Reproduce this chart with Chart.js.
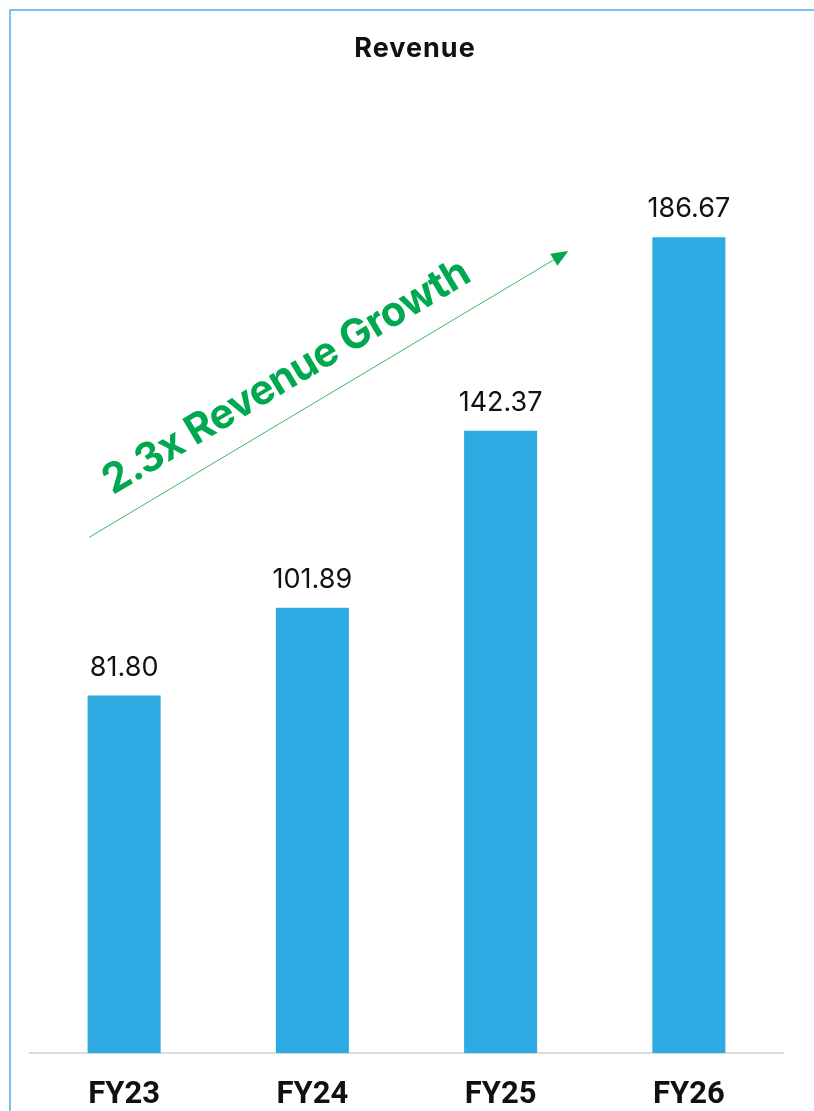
<!DOCTYPE html>
<html>
<head>
<meta charset="utf-8">
<script src="https://cdn.jsdelivr.net/npm/chart.js@4.4.1/dist/chart.umd.min.js"></script>
<style>
    html, body { margin: 0; padding: 0; background: #fff; }
    #wrap { position: relative; width: 814px; height: 1111px; overflow: hidden; }
    #marco { position: absolute; left: 9px; top: 9px; right: -10px; bottom: -10px;
             border-top: 2px solid #74c6ea; border-left: 2px solid #74c6ea; }
    canvas { position: absolute; left: 0; top: 0; }
</style>
</head>
<body>
<div id="wrap">
    <div id="marco"></div>
    <canvas id="revenueChart" width="814" height="1111"></canvas>
</div>
<script>
// Chart data
const categorias = ['FY23', 'FY24', 'FY25', 'FY26'];
const ingresos = [81.80, 101.89, 142.37, 186.67];
const titulo = 'Revenue';
const textoCrecimiento = '2.3x Revenue Growth';
// arrow ends, in axis units (category index, value)
const flechaInicio = [-0.186, 118];
const flechaFin = [2.36, 183.5];

// Title, value labels above each bar
const etiquetasPlugin = {
    id: 'etiquetas',
    afterDatasetsDraw(chart) {
        const c = chart.ctx;
        const meta = chart.getDatasetMeta(0);
        c.save();
        c.fillStyle = '#111';
        c.textAlign = 'center';
        c.font = '700 27px Inter, "Noto Sans", sans-serif';
        c.letterSpacing = '1px';
        c.textBaseline = 'alphabetic';
        c.fillText(titulo, chart.width / 2 + 8, 57);
        c.letterSpacing = '0px';
        c.font = '400 27px Inter, "Noto Sans", sans-serif';
        c.textBaseline = 'middle';
        meta.data.forEach((bar, i) => {
            c.fillText(ingresos[i].toFixed(2), bar.x, bar.y - 28);
        });
        c.restore();
    }
};

// Green growth arrow with rotated text
const flechaPlugin = {
    id: 'flecha',
    afterDatasetsDraw(chart) {
        const c = chart.ctx;
        const x = chart.scales.x, y = chart.scales.y;
        const x1 = x.getPixelForValue(flechaInicio[0]), y1 = y.getPixelForValue(flechaInicio[1]);
        const x2 = x.getPixelForValue(flechaFin[0]), y2 = y.getPixelForValue(flechaFin[1]);
        const ang = Math.atan2(y2 - y1, x2 - x1);
        c.save();
        c.strokeStyle = '#3cb865';
        c.lineWidth = 1;
        c.beginPath();
        c.moveTo(x1, y1);
        c.lineTo(x2 - 14 * Math.cos(ang), y2 - 14 * Math.sin(ang));
        c.stroke();
        // arrow head
        c.translate(x2, y2);
        c.rotate(ang);
        c.fillStyle = '#00a84f';
        c.beginPath();
        c.moveTo(0, 0);
        c.lineTo(-17, -7);
        c.lineTo(-17, 7);
        c.closePath();
        c.fill();
        c.restore();

        c.save();
        c.translate(x1, y1);
        c.rotate(ang);
        c.fillStyle = '#00a84f';
        c.font = '700 41px Inter, "Noto Sans", sans-serif';
        c.letterSpacing = '-0.5px';
        c.textAlign = 'left';
        c.textBaseline = 'alphabetic';
        c.fillText(textoCrecimiento, 42, -24);
        c.restore();
    }
};

let ctx = document.getElementById('revenueChart').getContext('2d');
let revenueChart = new Chart(ctx, {
    type: 'bar',
    data: {
        labels: categorias,
        datasets: [{
            label: titulo,
            data: ingresos,
            backgroundColor: '#2eaae3',
            borderWidth: 0,
            categoryPercentage: 1,
            barPercentage: 0.388
        }]
    },
    options: {
        responsive: false,
        animation: false,
        layout: { padding: { left: 30, right: 31, top: 179, bottom: 0 } },
        plugins: {
            legend: { display: false },
            tooltip: { enabled: false },
            title: { display: false }
        },
        scales: {
            x: {
                grid: { display: false, drawTicks: false },
                border: { display: true, color: '#dcdcdc', width: 2 },
                ticks: {
                    color: '#111',
                    padding: 24,
                    font: { family: 'Roboto, "Liberation Sans", sans-serif', size: 31, weight: '700' }
                },
                afterFit(scale) { scale.height = 58; }
            },
            y: {
                display: false,
                min: 0,
                max: 200
            }
        }
    },
    plugins: [etiquetasPlugin, flechaPlugin]
});
</script>
</body>
</html>
